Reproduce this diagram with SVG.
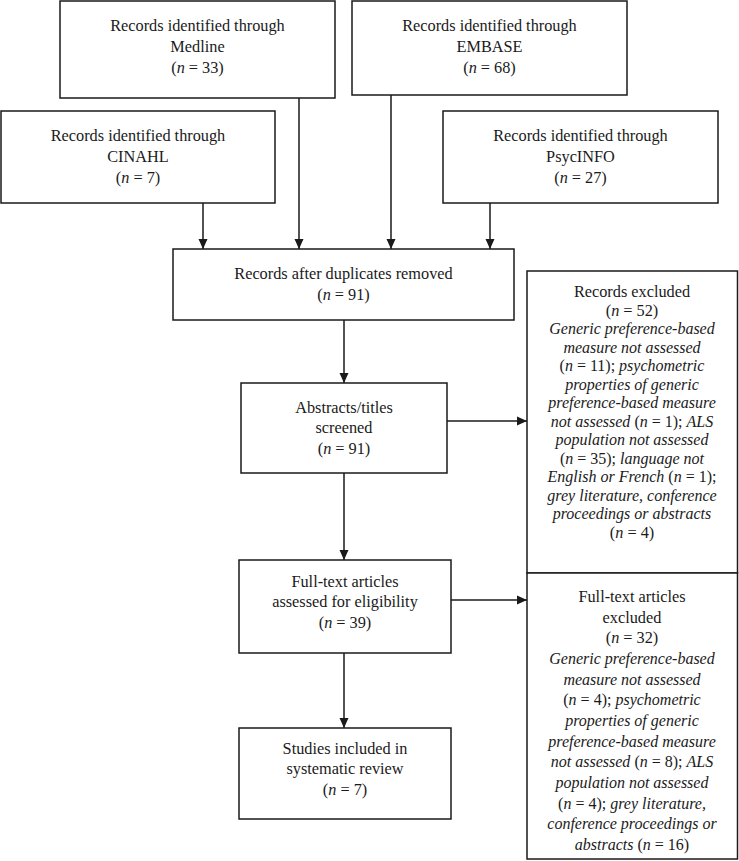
<svg xmlns="http://www.w3.org/2000/svg" width="739" height="861" viewBox="0 0 739 861">
<style>
.box{fill:#fff;stroke:#1a1a1a;stroke-width:1.5}
text{font-family:"Liberation Serif","Times New Roman",serif;font-size:16.3px;fill:#1a1a1a;text-anchor:middle}
.it{font-style:italic}
.sm{font-size:16px}
.c{stroke:#1a1a1a;stroke-width:1.5;fill:none;marker-end:url(#ah)}
</style>
<defs>
<marker id="ah" viewBox="0 0 10 10" refX="10" refY="5" markerWidth="10" markerHeight="10" markerUnits="userSpaceOnUse" orient="auto">
<path d="M0,0.5 L10,5 L0,9.5 Z" fill="#1a1a1a"/>
</marker>
</defs>
<rect width="739" height="861" fill="#fff"/>
<g id="connectors">
<line class="c" x1="203" y1="203" x2="203" y2="249"/>
<line class="c" x1="299" y1="98" x2="299" y2="249"/>
<line class="c" x1="391" y1="95" x2="391" y2="249"/>
<line class="c" x1="490" y1="203" x2="490" y2="249"/>
<line class="c" x1="344" y1="320" x2="344" y2="383"/>
<line class="c" x1="447" y1="421" x2="527" y2="421"/>
<line class="c" x1="344" y1="473" x2="344" y2="560"/>
<line class="c" x1="451" y1="600" x2="527" y2="600"/>
<line class="c" x1="344" y1="653" x2="344" y2="728"/>
</g>
<g id="medline">
<rect class="box" x="60" y="1" width="275" height="97"/>
<text x="197.5" y="31">Records identified through</text>
<text x="197.5" y="52">Medline</text>
<text x="197.5" y="73">(<tspan class="it">n</tspan> = 33)</text>
</g>
<g id="embase">
<rect class="box" x="352" y="1" width="275" height="94"/>
<text x="489.5" y="31">Records identified through</text>
<text x="489.5" y="52">EMBASE</text>
<text x="489.5" y="73">(<tspan class="it">n</tspan> = 68)</text>
</g>
<g id="cinahl">
<rect class="box" x="1" y="111" width="274" height="92"/>
<text x="138" y="141">Records identified through</text>
<text x="138" y="162">CINAHL</text>
<text x="138" y="183">(<tspan class="it">n</tspan> = 7)</text>
</g>
<g id="psycinfo">
<rect class="box" x="443" y="111" width="275" height="92"/>
<text x="580.5" y="141">Records identified through</text>
<text x="580.5" y="162">PsycINFO</text>
<text x="580.5" y="183">(<tspan class="it">n</tspan> = 27)</text>
</g>
<g id="duplicates">
<rect class="box" x="173" y="249" width="341" height="71"/>
<text x="343.5" y="279">Records after duplicates removed</text>
<text x="343.5" y="300">(<tspan class="it">n</tspan> = 91)</text>
</g>
<g id="abstracts">
<rect class="box" x="241" y="383" width="206" height="90"/>
<text x="344" y="413">Abstracts/titles</text>
<text x="344" y="433">screened</text>
<text x="344" y="454">(<tspan class="it">n</tspan> = 91)</text>
</g>
<g id="records-excluded">
<rect class="box" x="527" y="271" width="210.5" height="302"/>
<text x="632" y="297">Records excluded</text>
<text x="632" y="315.5">(<tspan class="it">n</tspan> = 52)</text>
<text x="632" y="334" class="it sm">Generic preference-based</text>
<text x="632" y="352.5" class="it sm">measure not assessed</text>
<text x="632" y="371" class="sm">(<tspan class="it">n</tspan> = 11); <tspan class="it">psychometric</tspan></text>
<text x="632" y="389.5" class="it sm">properties of generic</text>
<text x="632" y="408" class="it sm">preference-based measure</text>
<text x="632" y="426.5" class="sm"><tspan class="it">not assessed</tspan> (<tspan class="it">n</tspan> = 1); <tspan class="it">ALS</tspan></text>
<text x="632" y="445" class="it sm">population not assessed</text>
<text x="632" y="463.5" class="sm">(<tspan class="it">n</tspan> = 35); <tspan class="it">language not</tspan></text>
<text x="632" y="482" class="sm"><tspan class="it">English or French</tspan> (<tspan class="it">n</tspan> = 1);</text>
<text x="632" y="500.5" class="it sm">grey literature, conference</text>
<text x="632" y="519" class="it sm">proceedings or abstracts</text>
<text x="632" y="537.5">(<tspan class="it">n</tspan> = 4)</text>
</g>
<g id="fulltext">
<rect class="box" x="239" y="560" width="212" height="93"/>
<text x="345" y="587">Full-text articles</text>
<text x="345" y="607">assessed for eligibility</text>
<text x="345" y="628">(<tspan class="it">n</tspan> = 39)</text>
</g>
<g id="fulltext-excluded">
<rect class="box" x="527" y="573" width="210.5" height="286"/>
<text x="632" y="602">Full-text articles</text>
<text x="632" y="622.7">excluded</text>
<text x="632" y="643.3">(<tspan class="it">n</tspan> = 32)</text>
<text x="632" y="664" class="it sm">Generic preference-based</text>
<text x="632" y="684.7" class="it sm">measure not assessed</text>
<text x="632" y="705.3" class="sm">(<tspan class="it">n</tspan> = 4); <tspan class="it">psychometric</tspan></text>
<text x="632" y="726" class="it sm">properties of generic</text>
<text x="632" y="746.7" class="it sm">preference-based measure</text>
<text x="632" y="767.3" class="sm"><tspan class="it">not assessed</tspan> (<tspan class="it">n</tspan> = 8); <tspan class="it">ALS</tspan></text>
<text x="632" y="788" class="it sm">population not assessed</text>
<text x="632" y="808.7" class="sm">(<tspan class="it">n</tspan> = 4); <tspan class="it">grey literature,</tspan></text>
<text x="632" y="829.3" class="it sm">conference proceedings or</text>
<text x="632" y="850" class="sm"><tspan class="it">abstracts</tspan> (<tspan class="it">n</tspan> = 16)</text>
</g>
<g id="studies">
<rect class="box" x="239" y="728" width="212" height="91"/>
<text x="345" y="754">Studies included in</text>
<text x="345" y="774">systematic review</text>
<text x="345" y="795">(<tspan class="it">n</tspan> = 7)</text>
</g>
</svg>
